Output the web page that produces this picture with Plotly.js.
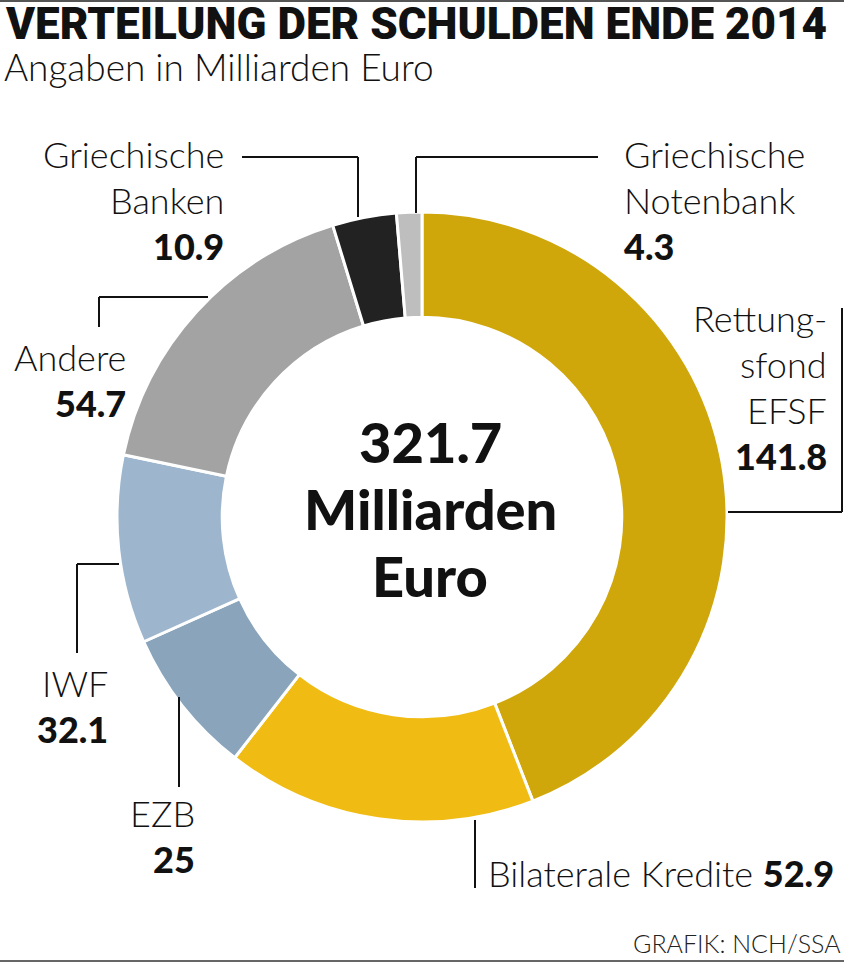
<!DOCTYPE html>
<html>
<head>
<meta charset="utf-8">
<script src="https://cdn.plot.ly/plotly-3.0.1.min.js"></script>
<style>
  html, body { margin: 0; padding: 0; background: #fff; }
  #chart { width: 844px; height: 963px; }
</style>
</head>
<body>
<div id="chart"></div>
<script>
// data
let labels = ['Rettungsfond EFSF', 'Bilaterale Kredite', 'EZB', 'IWF', 'Andere', 'Griechische Banken', 'Griechische Notenbank'];
let values = [141.8, 52.9, 25, 32.1, 54.7, 10.9, 4.3];
let colors = ['#d0a70b', '#f0bb12', '#8aa4bc', '#9db6cd', '#a3a3a3', '#222222', '#bebebe'];
let labelLines = [
	['Rettung-', 'sfond', 'EFSF'],
	['Bilaterale Kredite'],
	['EZB'],
	['IWF'],
	['Andere'],
	['Griechische', 'Banken'],
	['Griechische', 'Notenbank']
];

const W = 844, H = 963;
const px = x => x / W;
const py = y => 1 - y / H;

// label blocks: anchor x, first baseline, alignment
let blocks = [
	{x: 829, y: 332, align: 'right'},
	{x: 486, y: 887, align: 'inline'},
	{x: 197, y: 827, align: 'right'},
	{x: 110, y: 697, align: 'right'},
	{x: 128, y: 371, align: 'right'},
	{x: 226, y: 168, align: 'right'},
	{x: 622, y: 168, align: 'left'}
];

// leader lines in pixels
let leaders = [
	[[728, 512], [842, 512], [842, 308]],
	[[475, 820], [475, 888]],
	[[179, 697], [179, 787]],
	[[119, 564], [77, 564], [77, 653]],
	[[208, 297], [99, 297], [99, 327]],
	[[242, 157], [358, 157], [358, 217]],
	[[598, 157], [416, 157], [416, 213]]
];

const LINE = 46;
const LIGHT = {family: 'Lato, sans-serif', size: 36, color: '#111', weight: 300};
const HEAVY = {family: 'Lato, sans-serif', size: 36, color: '#111', weight: 900};

function fmt(v){ return String(v); }

function txt(x, base, text, font, anchor){
	// place by baseline (Lato box centre sits ~0.39em above baseline)
	return {
		xref: 'paper', yref: 'paper',
		x: px(x), y: py(base - 0.39 * font.size),
		xanchor: anchor, yanchor: 'middle',
		text: text, showarrow: false, font: font
	};
}

let annotations = [];
for (var i = 0; i < labels.length; i++){
	let b = blocks[i];
	if (b.align === 'inline'){
		let t = labelLines[i][0] + ' <span style="font-weight:900">' + fmt(values[i]) + '</span>';
		annotations.push(txt(b.x, b.y, t, LIGHT, 'left'));
		continue;
	}
	let n = 0;
	for (var line of labelLines[i]){
		annotations.push(txt(b.x, b.y + n * LINE, line, LIGHT, b.align));
		n++;
	}
	annotations.push(txt(b.x, b.y + n * LINE, fmt(values[i]), HEAVY, b.align));
}

// centre total
let total = values.reduce((a, b) => a + b, 0).toFixed(1);
let centreLines = [total, 'Milliarden', 'Euro'];
let CF = {family: 'Lato, sans-serif', size: 56, color: '#111', weight: 900};
for (var k = 0; k < centreLines.length; k++){
	annotations.push(txt(430, 463 + k * 67, centreLines[k], CF, 'center'));
}

// title, subtitle, source
annotations.push({
	xref: 'paper', yref: 'paper', x: px(3), y: py(39 - 0.34 * 44),
	xanchor: 'left', yanchor: 'middle', showarrow: false,
	text: 'VERTEILUNG DER SCHULDEN ENDE 2014',
	font: {family: 'Roboto, sans-serif', size: 44, color: '#111', weight: 900}
});
annotations.push(txt(2, 81, 'Angaben in Milliarden Euro', {family: 'Lato, sans-serif', size: 37, color: '#111', weight: 300}, 'left'));
annotations.push(txt(843, 953, 'GRAFIK: NCH/SSA', {family: 'Lato, sans-serif', size: 25, color: '#222', weight: 300}, 'right'));

let shapes = [];
for (var path of leaders){
	for (var j = 0; j < path.length - 1; j++){
		shapes.push({
			type: 'line', xref: 'paper', yref: 'paper',
			x0: px(path[j][0]), y0: py(path[j][1]),
			x1: px(path[j + 1][0]), y1: py(path[j + 1][1]),
			line: {color: '#111', width: 2}
		});
	}
}
shapes.push({type: 'line', xref: 'paper', yref: 'paper', x0: 0, x1: 1, y0: py(1), y1: py(1), line: {color: '#555', width: 2}});
shapes.push({type: 'line', xref: 'paper', yref: 'paper', x0: 0, x1: 1, y0: py(961), y1: py(961), line: {color: '#666', width: 2}});

let trace = {
	type: 'pie',
	labels: labels,
	values: values,
	sort: false,
	direction: 'clockwise',
	rotation: 0,
	hole: 0.655,
	textinfo: 'none',
	hoverinfo: 'none',
	marker: {colors: colors, line: {color: '#ffffff', width: 3}},
	domain: {x: [px(117), px(727)], y: [py(823), py(211)]}
};

let layout = {
	width: W, height: H,
	margin: {l: 0, r: 0, t: 0, b: 0},
	paper_bgcolor: '#ffffff',
	showlegend: false,
	annotations: annotations,
	shapes: shapes
};

Plotly.newPlot('chart', [trace], layout, {displayModeBar: false, staticPlot: true});
</script>
</body>
</html>
